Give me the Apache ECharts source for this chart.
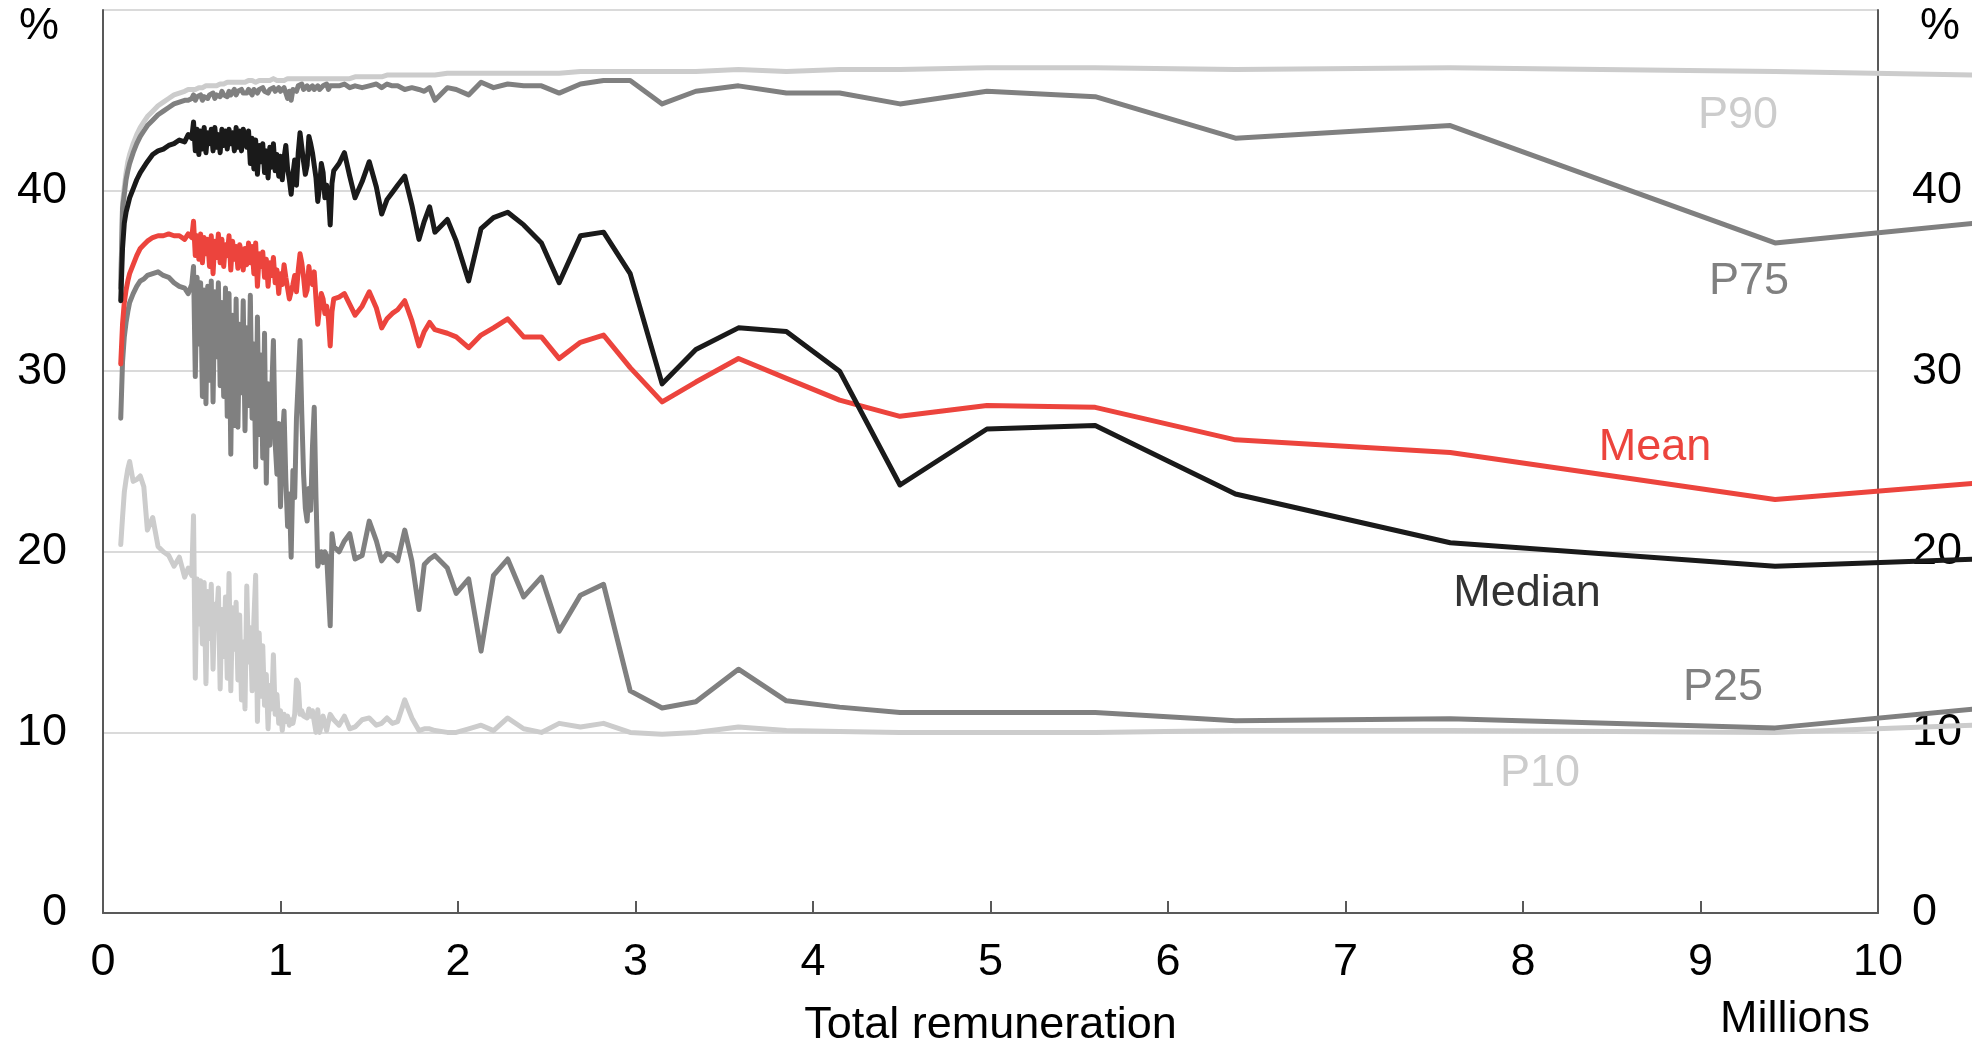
<!DOCTYPE html>
<html><head><meta charset="utf-8">
<script src="https://cdn.jsdelivr.net/npm/echarts@6/dist/echarts.min.js"></script>
<style>html,body{margin:0;padding:0;background:#fff}#c{width:1972px;height:1047px}</style>
</head><body><div id="c"></div>
<script>
// Total remuneration, millions
const remuneration = [
  0.10,0.11,0.12,0.13,0.14,0.15,0.17,0.19,0.21,0.23,0.25,0.28,0.31,0.34,0.37,0.40,0.43,0.46,0.48,0.50,
  0.51,0.52,0.53,0.54,0.55,0.56,0.57,0.58,0.59,0.60,0.61,0.62,0.63,0.64,0.65,0.66,0.67,0.68,0.69,0.70,
  0.71,0.72,0.73,0.74,0.75,0.76,0.77,0.78,0.79,0.80,0.81,0.82,0.83,0.84,0.85,0.86,0.87,0.88,0.89,0.90,
  0.91,0.92,0.93,0.94,0.95,0.96,0.97,0.98,0.99,1.00,1.01,1.02,1.03,1.04,1.05,1.06,1.07,1.08,1.09,1.10,
  1.11,1.12,1.13,1.14,1.15,1.16,1.17,1.18,1.19,1.20,1.21,1.22,1.23,1.24,1.25,1.26,1.27,1.28,1.29,1.30,
  1.33,1.36,1.39,1.42,1.46,1.50,1.54,1.57,1.60,1.63,1.66,1.70,1.74,1.78,1.81,1.84,1.87,1.94,1.99,2.06,
  2.13,2.20,2.28,2.37,2.47,2.57,2.69,2.82,2.97,3.15,3.34,3.58,3.85,4.15,4.49,4.98,5.59,6.38,7.59,9.42,10.55
];
const p90 = [
  34.8,39.3,40.2,41.0,41.6,42.0,42.6,43.1,43.5,43.8,44.1,44.4,44.7,44.9,45.1,45.3,45.4,45.5,45.6,45.6,
  45.7,45.6,45.7,45.7,45.8,45.7,45.8,45.8,45.7,45.8,45.8,45.8,45.9,45.8,45.9,45.9,45.9,45.9,45.9,46.0,
  45.9,46.0,46.0,46.0,45.9,46.0,46.0,46.0,46.1,46.0,46.0,46.1,46.0,46.1,46.1,46.0,46.1,46.1,46.1,46.1,
  46.1,46.1,46.1,46.1,46.1,46.2,46.1,46.1,46.2,46.1,46.2,46.1,46.2,46.2,46.1,46.2,46.2,46.2,46.2,46.2,
  46.2,46.2,46.2,46.2,46.2,46.2,46.2,46.2,46.2,46.2,46.2,46.2,46.2,46.2,46.2,46.2,46.2,46.2,46.2,46.2,
  46.2,46.2,46.2,46.3,46.3,46.3,46.3,46.3,46.4,46.4,46.4,46.4,46.4,46.4,46.4,46.4,46.4,46.5,46.5,46.5,
  46.5,46.5,46.5,46.5,46.5,46.5,46.6,46.6,46.6,46.6,46.6,46.7,46.6,46.7,46.7,46.8,46.8,46.7,46.8,46.6,46.4
];
const p75 = [
  34.6,39.0,39.8,40.6,41.1,41.5,42.1,42.6,43.0,43.3,43.6,43.9,44.2,44.4,44.6,44.8,44.9,45.0,45.0,45.1,
  45.3,45.0,45.2,45.1,45.3,45.0,45.2,45.3,45.1,45.3,45.2,45.4,45.1,45.3,45.4,45.2,45.5,45.3,45.4,45.2,
  45.5,45.3,45.4,45.6,45.3,45.5,45.4,45.6,45.4,45.5,45.4,45.6,45.5,45.3,45.6,45.5,45.4,45.6,45.5,45.7,
  45.5,45.6,45.4,45.6,45.5,45.7,45.5,45.6,45.7,45.5,45.6,45.7,45.4,45.1,45.5,45.0,45.6,45.7,45.5,45.8,
  45.7,45.9,45.6,45.7,45.8,45.6,45.7,45.8,45.6,45.7,45.8,45.6,45.7,45.8,45.7,45.9,45.6,45.8,45.7,45.8,
  45.8,45.9,45.7,45.8,45.7,45.8,45.9,45.7,45.9,45.8,45.8,45.6,45.7,45.6,45.5,45.7,45.0,45.7,45.6,45.3,
  46.0,45.7,45.9,45.8,45.8,45.4,45.9,46.1,46.1,44.8,45.5,45.8,45.4,45.4,44.8,45.5,45.2,42.9,43.6,37.1,38.2
];
const median = [
  33.9,36.8,38.2,38.8,39.2,39.6,40.1,40.6,41.0,41.3,41.6,42.0,42.2,42.3,42.5,42.6,42.8,42.7,43.1,42.9,
  43.8,42.2,43.4,42.0,43.3,42.3,43.5,42.1,43.2,42.6,43.4,42.2,43.5,42.4,43.1,42.1,43.4,42.5,43.3,42.3,
  43.4,42.6,43.2,42.2,43.5,42.4,43.3,42.2,43.4,43.0,42.4,43.3,41.5,42.9,41.2,42.8,40.9,42.5,41.6,42.6,
  41.0,42.2,40.7,42.4,41.3,42.6,41.1,42.0,40.8,41.9,40.6,41.8,42.5,41.2,40.6,39.8,40.9,41.7,40.3,42.1,
  43.2,42.4,41.6,40.9,41.4,43.0,42.6,42.1,42.2,40.7,39.4,40.2,41.5,41.0,39.6,40.3,39.8,38.1,40.4,41.1,
  41.5,42.1,40.8,39.6,40.5,41.6,40.2,38.7,39.5,39.9,40.3,40.8,39.2,37.3,38.3,39.1,37.7,38.4,37.2,35.0,
  37.9,38.5,38.8,38.1,37.1,34.9,37.5,37.7,35.4,29.3,31.2,32.4,32.2,30.0,23.7,26.8,27.0,23.2,20.5,19.2,19.6
];
const mean = [
  30.4,32.6,33.8,34.5,35.0,35.4,35.9,36.4,36.8,37.0,37.2,37.4,37.5,37.5,37.6,37.5,37.5,37.3,37.6,37.4,
  38.3,36.4,37.5,36.2,37.6,36.0,37.4,36.5,37.3,35.8,37.5,35.4,37.2,36.3,37.6,36.0,37.3,35.8,37.0,36.4,
  37.5,35.6,37.2,36.2,36.9,35.7,37.0,36.6,35.6,36.8,35.9,37.1,36.0,36.9,35.4,37.1,34.7,36.5,35.8,36.6,
  35.2,36.2,34.7,36.0,35.3,36.3,34.9,35.6,34.3,35.4,34.8,35.9,35.2,34.6,34.0,33.9,34.8,35.3,34.4,35.6,
  36.5,36.0,35.2,34.2,34.5,35.8,35.0,34.8,35.5,34.0,32.6,33.5,34.3,34.0,33.2,33.6,32.9,31.4,33.3,34.0,
  34.1,34.3,33.7,33.1,33.6,34.4,33.5,32.4,32.9,33.2,33.4,33.9,32.8,31.4,32.2,32.7,32.3,32.1,31.9,31.3,
  32.0,32.4,32.9,31.9,31.9,30.7,31.6,32.0,30.2,28.3,29.4,30.7,29.6,28.4,27.5,28.1,28.0,26.2,25.5,22.9,23.8
];
const p25 = [
  27.4,30.5,31.9,32.7,33.3,33.8,34.3,34.7,35.0,35.1,35.3,35.4,35.5,35.3,35.2,34.9,34.7,34.6,34.3,34.8,
  35.8,29.7,35.2,31.5,34.9,28.6,34.5,28.2,34.7,29.5,35.0,28.3,34.4,30.8,34.9,29.2,33.8,28.6,34.6,27.5,
  34.3,25.4,33.1,27.0,34.0,26.9,32.6,28.8,33.9,26.7,32.4,28.1,34.2,27.4,31.5,24.7,33.0,26.5,30.9,25.2,
  32.1,23.8,29.3,25.9,28.7,31.7,26.0,24.3,27.1,22.5,26.2,27.8,24.0,21.4,23.2,19.7,24.5,23.0,27.4,29.5,
  31.7,27.6,24.3,22.4,21.7,23.5,22.3,25.8,28.0,23.0,19.2,19.6,20.0,19.4,20.0,19.8,19.9,15.9,21.0,20.3,
  20.0,20.6,21.0,19.6,19.8,21.7,20.6,19.5,19.9,19.8,19.5,21.2,19.5,16.8,19.3,19.6,19.8,19.1,17.7,18.5,
  14.5,18.7,19.6,17.5,18.6,15.6,17.6,18.2,12.3,11.35,11.7,13.5,11.75,11.4,11.1,11.1,11.1,10.65,10.75,10.25,11.3
];
const p10 = [
  20.4,21.9,23.3,24.0,24.6,25.0,23.9,24.0,24.2,23.6,21.2,21.9,20.3,20.0,19.8,19.2,19.7,18.6,19.1,18.7,
  22.0,13.0,18.5,16.0,18.4,14.9,18.3,12.7,17.8,15.2,18.2,13.5,17.1,16.3,18.0,12.4,16.8,14.2,17.5,13.0,
  18.8,12.3,16.9,14.6,17.2,12.9,16.5,11.8,15.0,11.3,18.1,13.9,15.8,12.3,16.2,18.7,10.6,15.5,12.0,14.8,
  11.5,13.2,10.2,12.6,11.3,14.3,11.0,12.1,10.5,11.2,10.1,11.0,10.6,10.9,10.4,10.7,10.5,11.0,12.9,12.7,
  11.0,11.2,10.9,11.0,10.8,11.3,10.9,11.2,10.6,10.0,11.25,10.0,10.4,10.9,10.5,10.1,10.6,11.0,11.0,10.7,
  10.4,10.9,10.2,10.3,10.7,10.8,10.4,10.5,10.8,10.5,10.6,11.8,10.8,10.1,10.2,10.2,10.1,10.0,10.0,10.2,
  10.4,10.1,10.8,10.2,10.0,10.5,10.3,10.5,10.0,9.9,10.0,10.3,10.1,10.05,10.0,10.0,10.0,10.1,10.1,10.0,10.4
];
const xTicks = [0,1,2,3,4,5,6,7,8,9,10];
const yTicks = [0,10,20,30,40,50];
const seriesNames = ['P10','P90','P25','P75','Mean','Median'];

const FONT = 'Liberation Sans';
const FS = 45;
const AXIS = '#595959';
const C = {P90:'#cccccc', P75:'#808080', Median:'#1a1a1a', Mean:'#ec443d', P25:'#808080', P10:'#cccccc'};
const values = {P10:p10, P90:p90, P25:p25, P75:p75, Mean:mean, Median:median};

[p90,p75,median,mean,p25,p10].forEach((a,i)=>{ if(a.length!==remuneration.length) console.error('length mismatch', i, a.length, remuneration.length); });

function pairs(v){ return remuneration.map((x,i)=>[x, v[i]]); }

// layout: main plot box and a wider plot box (same scale) so lines run past the right axis
const W = 1972, H = 1047;
const L = 103, R = 94, T = 10, B = 134;
const xMax = xTicks[xTicks.length-1];
const xMaxWide = xMax * (W - L) / (W - L - R);

const chart = echarts.init(document.getElementById('c'), null, {renderer:'canvas'});

function yAxisCfg(pos){
  return {
    gridIndex:0, type:'value', min:yTicks[0], max:yTicks[yTicks.length-1], interval:10, position:pos,
    axisLine:{show:true, onZero:false, lineStyle:{color:AXIS, width:2}},
    axisTick:{show:false},
    axisLabel:{fontSize:FS, color:'#000', fontFamily:FONT, margin: pos==='left'?36:34,
      formatter: v => (v===50 ? '' : String(v))},
    splitLine:{show: pos==='left', lineStyle:{color:'#dadada', width:2}}
  };
}

const label = (text, x, y, color) => ({
  type:'text', x, y, silent:true, z:100,
  style:{text, fill:color, font: FS + 'px "Liberation Sans"', fontSize:FS, fontFamily:FONT,
         align:'center', verticalAlign:'middle', textAlign:'center', textVerticalAlign:'middle'}
});

const option = {
  animation:false,
  backgroundColor:'#ffffff',
  textStyle:{fontFamily:FONT},
  grid:[
    {left:L, right:R, top:T, bottom:B, containLabel:false, outerBoundsMode:'none'},
    {left:L, right:0, top:T, bottom:B, containLabel:false, outerBoundsMode:'none'}
  ],
  xAxis:[{
    gridIndex:0, type:'value', min:xTicks[0], max:xMax, interval:1,
    name:'Total remuneration', nameLocation:'middle', nameGap:113,
    nameTextStyle:{fontSize:FS, color:'#000', fontFamily:FONT, verticalAlign:'middle'},
    axisLine:{show:true, onZero:false, lineStyle:{color:AXIS, width:2}},
    axisTick:{show:true, inside:true, length:12, lineStyle:{color:AXIS, width:2}},
    axisLabel:{fontSize:FS, color:'#000', fontFamily:FONT, margin:50, verticalAlign:'middle',
      showMinLabel:true, showMaxLabel:true},
    splitLine:{show:false}
  },{
    gridIndex:1, type:'value', min:0, max:xMaxWide, show:false
  }],
  yAxis:[yAxisCfg('left'), yAxisCfg('right'),
    {gridIndex:1, type:'value', min:yTicks[0], max:yTicks[yTicks.length-1], show:false}],
  series: seriesNames.map((n,i)=>({
    type:'line', name:n, data:pairs(values[n]), xAxisIndex:1, yAxisIndex:2,
    showSymbol:false, symbol:'none', silent:true,
    z: 2 + i, emphasis:{disabled:true},
    lineStyle:{color:C[n], width:5, join:'round', cap:'round'}
  })),
  graphic:[
    label('%', 39, 27, '#000'),
    label('%', 1940, 27, '#000'),
    label('Millions', 1795, 1020, '#000'),
    label('P90', 1738, 116, C.P90),
    label('P75', 1749, 282, C.P75),
    label('Mean', 1655, 448, C.Mean),
    label('Median', 1527, 594, '#333333'),
    label('P25', 1723, 688, C.P25),
    label('P10', 1540, 774, C.P10)
  ]
};
chart.setOption(option);
</script>
</body></html>
